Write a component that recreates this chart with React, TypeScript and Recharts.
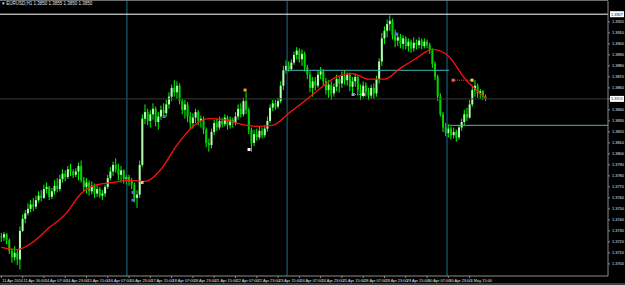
import React from 'react';
import { ComposedChart, XAxis, YAxis, Bar, Line, Scatter, ReferenceLine } from 'recharts';

// EURUSD, one bar every 2 hours; open of a bar = close of the previous one
const firstOpen = 1.3725;

const closes = [
  1.3724, 1.3727, 1.3722, 1.3712, 1.3706, 1.3710, 1.3704, 1.3730, 1.3741, 1.3746,
  1.3750, 1.3754, 1.3752, 1.3758, 1.3762, 1.3760, 1.3768, 1.3770, 1.3761, 1.3766,
  1.3771, 1.3768, 1.3777, 1.3782, 1.3779, 1.3786, 1.3784, 1.3781, 1.3784, 1.3789,
  1.3776, 1.3770, 1.3774, 1.3766, 1.3771, 1.3764, 1.3768, 1.3762, 1.3764, 1.3770,
  1.3778, 1.3784, 1.3790, 1.3786, 1.3781, 1.3785, 1.3777, 1.3779, 1.3775, 1.3772,
  1.3760, 1.3763, 1.3790, 1.3832, 1.3838, 1.3830, 1.3836, 1.3841, 1.3829, 1.3834,
  1.3840, 1.3837, 1.3845, 1.3852, 1.3860, 1.3856, 1.3862, 1.3848, 1.3840, 1.3845,
  1.3834, 1.3828, 1.3833, 1.3838, 1.3830, 1.3832, 1.3822, 1.3810, 1.3808, 1.3820,
  1.3828, 1.3824, 1.3830, 1.3827, 1.3833, 1.3826, 1.3831, 1.3828, 1.3834, 1.3841,
  1.3836, 1.3848, 1.3840, 1.3822, 1.3810, 1.3818, 1.3815, 1.3821, 1.3817, 1.3823,
  1.3830, 1.3842, 1.3846, 1.3843, 1.3848, 1.3862, 1.3876, 1.3880, 1.3877, 1.3883,
  1.3890, 1.3894, 1.3886, 1.3891, 1.3879, 1.3872, 1.3860, 1.3866, 1.3862, 1.3872,
  1.3875, 1.3866, 1.3858, 1.3863, 1.3855, 1.3861, 1.3868, 1.3864, 1.3871, 1.3867,
  1.3872, 1.3861, 1.3866, 1.3870, 1.3858, 1.3855, 1.3862, 1.3856, 1.3853, 1.3860,
  1.3855, 1.3868, 1.3884, 1.3905, 1.3912, 1.3918, 1.3921, 1.3908, 1.3903, 1.3906,
  1.3900, 1.3905, 1.3898, 1.3902, 1.3896, 1.3901, 1.3899, 1.3903, 1.3898, 1.3902,
  1.3899, 1.3894, 1.3882, 1.3870, 1.3852, 1.3836, 1.3824, 1.3819, 1.3823, 1.3817,
  1.3820, 1.3815, 1.3824, 1.3829, 1.3836, 1.3833, 1.3845, 1.3858, 1.3862, 1.3855,
  1.3857, 1.3852, 1.3850,
];

const highs = [
  1.3728, 1.3729, 1.3728, 1.3723, 1.3714, 1.3716, 1.3713, 1.3734, 1.3745, 1.3749,
  1.3755, 1.3758, 1.3760, 1.3762, 1.3766, 1.3767, 1.3772, 1.3774, 1.3771, 1.3769,
  1.3776, 1.3778, 1.3781, 1.3786, 1.3785, 1.3789, 1.3791, 1.3786, 1.3787, 1.3792,
  1.3794, 1.3779, 1.3778, 1.3776, 1.3775, 1.3773, 1.3772, 1.3770, 1.3767, 1.3772,
  1.3781, 1.3788, 1.3793, 1.3796, 1.3791, 1.3789, 1.3786, 1.3781, 1.3781, 1.3778,
  1.3774, 1.3767, 1.3794, 1.3836, 1.3845, 1.3841, 1.3840, 1.3846, 1.3843, 1.3838,
  1.3844, 1.3846, 1.3849, 1.3856, 1.3863, 1.3867, 1.3866, 1.3864, 1.3850, 1.3849,
  1.3847, 1.3838, 1.3837, 1.3841, 1.3840, 1.3835, 1.3834, 1.3824, 1.3814, 1.3823,
  1.3831, 1.3832, 1.3834, 1.3833, 1.3836, 1.3835, 1.3834, 1.3833, 1.3838, 1.3845,
  1.3846, 1.3851, 1.3856, 1.3842, 1.3824, 1.3822, 1.3823, 1.3825, 1.3824, 1.3826,
  1.3834, 1.3845, 1.3849, 1.3849, 1.3851, 1.3866, 1.3880, 1.3885, 1.3884, 1.3886,
  1.3893, 1.3897, 1.3896, 1.3895, 1.3893, 1.3881, 1.3875, 1.3870, 1.3870, 1.3876,
  1.3879, 1.3877, 1.3869, 1.3867, 1.3866, 1.3864, 1.3872, 1.3870, 1.3875, 1.3876,
  1.3874, 1.3874, 1.3870, 1.3873, 1.3871, 1.3863, 1.3866, 1.3865, 1.3860, 1.3863,
  1.3864, 1.3871, 1.3887, 1.3910, 1.3916, 1.3922, 1.3926, 1.3923, 1.3913, 1.3910,
  1.3909, 1.3908, 1.3907, 1.3905, 1.3904, 1.3906, 1.3904, 1.3906, 1.3905, 1.3905,
  1.3904, 1.3901, 1.3896, 1.3884, 1.3872, 1.3855, 1.3838, 1.3828, 1.3827, 1.3825,
  1.3824, 1.3822, 1.3826, 1.3832, 1.3840, 1.3842, 1.3849, 1.3862, 1.3867, 1.3864,
  1.3859, 1.3858, 1.3854,
];

const lows = [
  1.3720, 1.3721, 1.3718, 1.3709, 1.3701, 1.3703, 1.3699, 1.3695, 1.3729, 1.3737,
  1.3744, 1.3747, 1.3748, 1.3750, 1.3756, 1.3757, 1.3759, 1.3764, 1.3758, 1.3759,
  1.3763, 1.3765, 1.3766, 1.3774, 1.3775, 1.3777, 1.3780, 1.3778, 1.3779, 1.3776,
  1.3774, 1.3766, 1.3764, 1.3762, 1.3763, 1.3760, 1.3761, 1.3760, 1.3758, 1.3761,
  1.3768, 1.3776, 1.3780, 1.3783, 1.3776, 1.3774, 1.3773, 1.3772, 1.3771, 1.3768,
  1.3756, 1.3751, 1.3760, 1.3788, 1.3827, 1.3826, 1.3824, 1.3831, 1.3825, 1.3822,
  1.3831, 1.3833, 1.3834, 1.3841, 1.3848, 1.3852, 1.3850, 1.3845, 1.3836, 1.3832,
  1.3829, 1.3822, 1.3823, 1.3828, 1.3826, 1.3824, 1.3818, 1.3806, 1.3802, 1.3805,
  1.3817, 1.3821, 1.3822, 1.3824, 1.3825, 1.3822, 1.3823, 1.3824, 1.3826, 1.3831,
  1.3833, 1.3834, 1.3836, 1.3818, 1.3802, 1.3807, 1.3812, 1.3813, 1.3814, 1.3815,
  1.3820, 1.3828, 1.3839, 1.3840, 1.3841, 1.3846, 1.3858, 1.3873, 1.3875, 1.3876,
  1.3881, 1.3886, 1.3883, 1.3880, 1.3875, 1.3868, 1.3856, 1.3852, 1.3858, 1.3860,
  1.3868, 1.3862, 1.3854, 1.3851, 1.3849, 1.3852, 1.3857, 1.3856, 1.3860, 1.3863,
  1.3862, 1.3857, 1.3855, 1.3861, 1.3853, 1.3849, 1.3851, 1.3852, 1.3849, 1.3850,
  1.3850, 1.3852, 1.3864, 1.3880, 1.3900, 1.3906, 1.3912, 1.3904, 1.3897, 1.3898,
  1.3896, 1.3895, 1.3895, 1.3893, 1.3892, 1.3893, 1.3895, 1.3896, 1.3895, 1.3896,
  1.3896, 1.3891, 1.3878, 1.3867, 1.3848, 1.3834, 1.3820, 1.3816, 1.3815, 1.3813,
  1.3814, 1.3811, 1.3813, 1.3821, 1.3826, 1.3830, 1.3832, 1.3843, 1.3852, 1.3851,
  1.3850, 1.3849, 1.3848,
];

// red moving average, read at every 6th bar
const maBars = [0, 6, 12, 18, 24, 30, 36, 42, 48, 54, 60, 66, 72, 78, 84, 90, 96, 102, 108, 114, 120, 126, 132, 138, 144, 150, 156, 162, 168, 174, 180, 182];
const maValues = [1.3715, 1.3713, 1.3720, 1.3733, 1.3745, 1.3764, 1.3772, 1.3774, 1.3776, 1.3775, 1.3786, 1.3808, 1.3825, 1.3832, 1.3831, 1.3827, 1.3825, 1.3826, 1.3837, 1.3848, 1.3860, 1.3870, 1.3873, 1.3868, 1.3868, 1.3878, 1.3887, 1.3895, 1.3889, 1.3869, 1.3855, 1.3851];

const timeLabels = [
  '11 Apr 2014', '11 Apr 16:00', '14 Apr 07:00', '14 Apr 23:00', '15 Apr 15:00', '16 Apr 07:00',
  '16 Apr 23:00', '17 Apr 15:00', '18 Apr 07:00', '18 Apr 23:00', '21 Apr 15:00', '22 Apr 07:00',
  '22 Apr 23:00', '23 Apr 15:00', '24 Apr 07:00', '24 Apr 23:00', '25 Apr 15:00', '28 Apr 07:00',
  '28 Apr 23:00', '29 Apr 15:00', '30 Apr 07:00', '30 Apr 23:00', '1 May 15:00',
];
const timeTicks = [0, 8, 16, 24, 32, 40, 48, 56, 64, 72, 80, 88, 96, 104, 112, 120, 128, 136, 144, 152, 160, 168, 176];

const priceTicks = [
  1.3700, 1.3710, 1.3720, 1.3730, 1.3740, 1.3750, 1.3760, 1.3770, 1.3780, 1.3790, 1.3800, 1.3810,
  1.3820, 1.3830, 1.3840, 1.3850, 1.3860, 1.3870, 1.3880, 1.3890, 1.3900, 1.3910, 1.3920,
];

// trade arrows
const markerBars = [49.5, 49.5, 52.9, 61.2, 91.6, 93.1, 132.2, 136, 148.4, 169.8, 176.9];
const markerPrices = [1.3765, 1.3758, 1.3774, 1.3834, 1.3858, 1.3804, 1.3854, 1.3854, 1.3909, 1.3867, 1.3867];
const markerColors = ['#5a6cff', '#5a6cff', '#ffb38a', '#5a6cff', '#ffa020', '#ffffff', '#9a9aff', '#ffffff', '#5a6cff', '#ff6060', '#ffd040'];

const levelWhite = 1.3927;
const bidPrice = 1.3850;
const levelUpper = 1.3876;
const levelLower = 1.3826;

const rows = closes.map((c, i) => {
  const open = i === 0 ? firstOpen : closes[i - 1];
  const high = Math.max(highs[i], open, c);
  const low = Math.min(lows[i], open, c);
  const k = maBars.indexOf(i);
  return { i, open, close: c, high, low, range: [low, high], ma: k >= 0 ? maValues[k] : null };
});

const markers = markerBars.map((b, k) => ({ i: b, p: markerPrices[k], color: markerColors[k] }));

const Candle = (props: any) => {
  const { x, y, width, height, payload } = props;
  if (x == null || y == null) return null;
  const span = payload.high - payload.low;
  const ratio = span > 0 ? height / span : 0;
  const cx = x + width / 2;
  const top = y + (payload.high - Math.max(payload.open, payload.close)) * ratio;
  const bot = y + (payload.high - Math.min(payload.open, payload.close)) * ratio;
  const bull = payload.close >= payload.open;
  return (
    <g>
      <line x1={cx} x2={cx} y1={y} y2={y + Math.max(height, 1)} stroke="#00ff00" strokeWidth={1} />
      <rect x={cx - 1} y={top} width={2} height={Math.max(bot - top, 1)} fill={bull ? '#b2ffb2' : '#00d400'} />
    </g>
  );
};

const TimeTick = (props: any) => {
  const { x, y, payload } = props;
  const label = timeLabels[timeTicks.indexOf(payload.value)];
  return (
    <text x={x + 1} y={y + 2} fontSize={3.9} fill="#e6e6e6" fontFamily="Liberation Sans" textAnchor="start">
      {label}
    </text>
  );
};

const PriceTick = (props: any) => {
  const { x, y, payload } = props;
  return (
    <text x={x} y={y + 1.4} fontSize={3.9} fill="#e6e6e6" fontFamily="Liberation Sans" textAnchor="start">
      {payload.value.toFixed(4)}
    </text>
  );
};

const priceBox = (value: number) => (p: any) => {
  const vb = p.viewBox;
  if (!vb) return null;
  const x = vb.x + vb.width + 2;
  return (
    <g>
      <rect x={x} y={vb.y - 3} width={14} height={6} fill="#ffffff" />
      <text x={x + 1} y={vb.y + 1.4} fontSize={3.9} fill="#000000" fontFamily="Liberation Sans">
        {value.toFixed(4)}
      </text>
    </g>
  );
};

const MarkerShape = (props: any) => {
  const { cx, cy, payload } = props;
  return <rect x={cx - 1.5} y={cy - 1.5} width={3} height={3} fill={payload.color} />;
};

export default function App() {
  return (
    <div style={{ position: 'fixed', left: 0, top: 0, width: 625, height: 285, background: '#000', overflow: 'hidden' }}>
      <div style={{ position: 'absolute', left: 0, top: 0, width: 608, height: 1, background: '#6e6e6e' }} />
      <div style={{ position: 'absolute', left: 0, top: 283, width: 625, height: 2, background: '#3c3f44' }} />
      <div
        style={{
          position: 'absolute', left: 2, top: 2, fontSize: 4.5, lineHeight: 1, color: '#e6e6e6',
          fontFamily: 'Liberation Sans', whiteSpace: 'nowrap', zIndex: 2,
        }}
      >
        ▾ EURUSD,H1 1.3850 1.3855 1.3850 1.3850
      </div>
      <ComposedChart width={625} height={285} data={rows} margin={{ top: 1, right: 0, left: 0, bottom: 0 }}>
        <XAxis
          dataKey="i"
          type="number"
          domain={[-0.5, 228]}
          allowDataOverflow
          ticks={timeTicks}
          interval={0}
          tick={<TimeTick />}
          height={9}
          tickSize={2}
          axisLine={{ stroke: '#8c8c8c' }}
          tickLine={{ stroke: '#8c8c8c' }}
        />
        <YAxis
          orientation="right"
          type="number"
          domain={[1.3689, 1.3939]}
          allowDataOverflow
          ticks={priceTicks}
          interval={0}
          tick={<PriceTick />}
          width={17}
          tickSize={2}
          axisLine={{ stroke: '#8c8c8c' }}
          tickLine={{ stroke: '#8c8c8c' }}
        />
        <ReferenceLine x={47.2} stroke="#1f6e8c" />
        <ReferenceLine x={107.4} stroke="#1f6e8c" />
        <ReferenceLine x={167.5} stroke="#1f6e8c" />
        <ReferenceLine y={bidPrice} stroke="#3a3a3a" label={priceBox(bidPrice)} />
        <ReferenceLine y={levelWhite} stroke="#ffffff" label={priceBox(levelWhite)} />
        <ReferenceLine segment={[{ x: 107.4, y: levelUpper }, { x: 168.3, y: levelUpper }]} stroke="#3fb8b8" />
        <ReferenceLine segment={[{ x: 168.3, y: levelLower }, { x: 228, y: levelLower }]} stroke="#3fb8b8" />
        <ReferenceLine segment={[{ x: 132.2, y: markerPrices[6] }, { x: 136, y: markerPrices[7] }]} stroke="#7a7aff" strokeDasharray="1 1" />
        <ReferenceLine segment={[{ x: 169.8, y: markerPrices[9] }, { x: 176.9, y: markerPrices[10] }]} stroke="#ff4040" strokeDasharray="1 1" />
        <Bar dataKey="range" barSize={2} shape={<Candle />} isAnimationActive={false} />
        <Line dataKey="ma" type="monotone" stroke="#ff1010" strokeWidth={1.3} dot={false} connectNulls isAnimationActive={false} />
        <Scatter data={markers} dataKey="p" shape={<MarkerShape />} isAnimationActive={false} />
      </ComposedChart>
    </div>
  );
}
